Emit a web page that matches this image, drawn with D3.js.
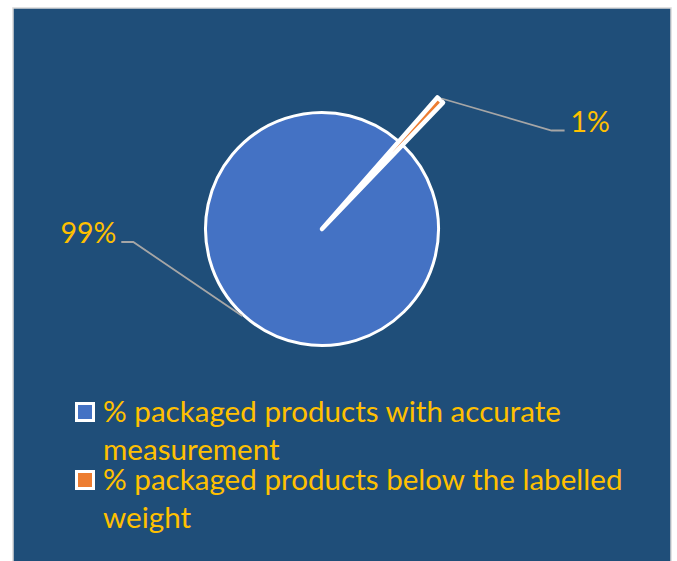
<!DOCTYPE html>
<html>
<head>
<meta charset="utf-8">
<script src="https://cdn.jsdelivr.net/npm/d3@7"></script>
<style>
  html, body { margin: 0; padding: 0; background: #ffffff; }
  svg { display: block; }
</style>
</head>
<body>
<div id="chart"></div>
<script>
// ---- data ----
const categories = [
  "% packaged products with accurate measurement",
  "% packaged products below the labelled weight"
];
const values = [99.3, 0.7];
const colors = ["#4472C4", "#ED7D31"];

// ---- layout ----
const W = 677, H = 561;
const cx = 322, cy = 229;
const R = 116.5;            // main radius
const explodeR = 175;       // outer radius of the small slice
const bisectorDeg = 42.5;   // direction of the small slice
const fontFamily = "Lato, 'Open Sans', sans-serif";

const svg = d3.select("#chart").append("svg")
  .attr("width", W).attr("height", H);

// chart area
svg.append("rect")
  .attr("x", 13).attr("y", 8).attr("width", 658).attr("height", 570)
  .attr("fill", "#1F4E79").attr("stroke", "#D9D9D9").attr("stroke-width", 1.5);

const total = d3.sum(values);
const smallSpan = values[1] / total * 2 * Math.PI;
const a0 = bisectorDeg * Math.PI / 180 + smallSpan / 2;

const pie = d3.pie().sort(null).value(d => d)
  .startAngle(a0).endAngle(a0 + 2 * Math.PI);
const arcsData = pie(values);

const arcMain = d3.arc().innerRadius(0).outerRadius(R);
const arcBig = d3.arc().innerRadius(0).outerRadius(explodeR);

const g = svg.append("g").attr("transform", `translate(${cx},${cy})`);

g.selectAll("path.slice").data(arcsData).enter().append("path")
  .attr("class", "slice")
  .attr("d", (d, i) => i === 0 ? arcMain(d) : arcBig(d))
  .attr("fill", (d, i) => colors[i])
  .attr("stroke", "#ffffff")
  .attr("stroke-width", (d, i) => i === 0 ? 3 : 4.5)
  .attr("stroke-linejoin", "round");

// ---- data labels with leader lines ----
const labelFmt = v => Math.round(v / total * 100) + "%";
const leaderCfg = [
  { r: R + 1.5, dx: -109, dy: -74, hx: -12, gap: 5, anchor: "end" },
  { r: explodeR + 2, dx: 110, dy: 32, hx: 13, gap: 6, anchor: "start" }
];

arcsData.forEach((d, i) => {
  const c = leaderCfg[i];
  const mid = (d.startAngle + d.endAngle) / 2;
  const sx = Math.sin(mid) * c.r, sy = -Math.cos(mid) * c.r;
  const ex = sx + c.dx, ey = sy + c.dy;
  const hx = ex + c.hx;
  g.append("polyline")
    .attr("points", `${sx},${sy} ${ex},${ey} ${hx},${ey}`)
    .attr("fill", "none").attr("stroke", "#A6A6A6").attr("stroke-width", 1.8);
  g.append("text")
    .attr("x", hx + (c.hx < 0 ? -c.gap : c.gap))
    .attr("y", ey + 1)
    .attr("text-anchor", c.anchor)
    .attr("font-family", fontFamily)
    .attr("font-size", 28.5)
    .attr("fill", "#FFC000")
    .text(labelFmt(d.value));
});

// ---- legend ----
const legendX = 75, textX = 103, firstBaseline = 422, lineH = 38, itemGap = 30;
const maxTextW = 560;
const fs = 29.6;
const legend = svg.append("g");
let baseline = firstBaseline;

categories.forEach((cat, i) => {
  const words = cat.split(" ");
  const t = legend.append("text")
    .attr("font-family", fontFamily).attr("font-size", fs)
    .attr("fill", "#FFC000");
  let line = [], tspan = t.append("tspan").attr("x", textX).attr("y", baseline);
  let lines = 1;
  words.forEach(w => {
    line.push(w);
    tspan.text(line.join(" "));
    if (tspan.node().getComputedTextLength() > maxTextW && line.length > 1) {
      line.pop();
      tspan.text(line.join(" "));
      line = [w];
      tspan = t.append("tspan").attr("x", textX).attr("y", baseline + lines * lineH).text(w);
      lines++;
    }
  });
  legend.append("rect")
    .attr("x", legendX + 1.5).attr("y", baseline - 18.5)
    .attr("width", 17).attr("height", 17)
    .attr("fill", colors[i]).attr("stroke", "#ffffff").attr("stroke-width", 3);
  baseline += (lines - 1) * lineH + itemGap;
});
</script>
</body>
</html>
